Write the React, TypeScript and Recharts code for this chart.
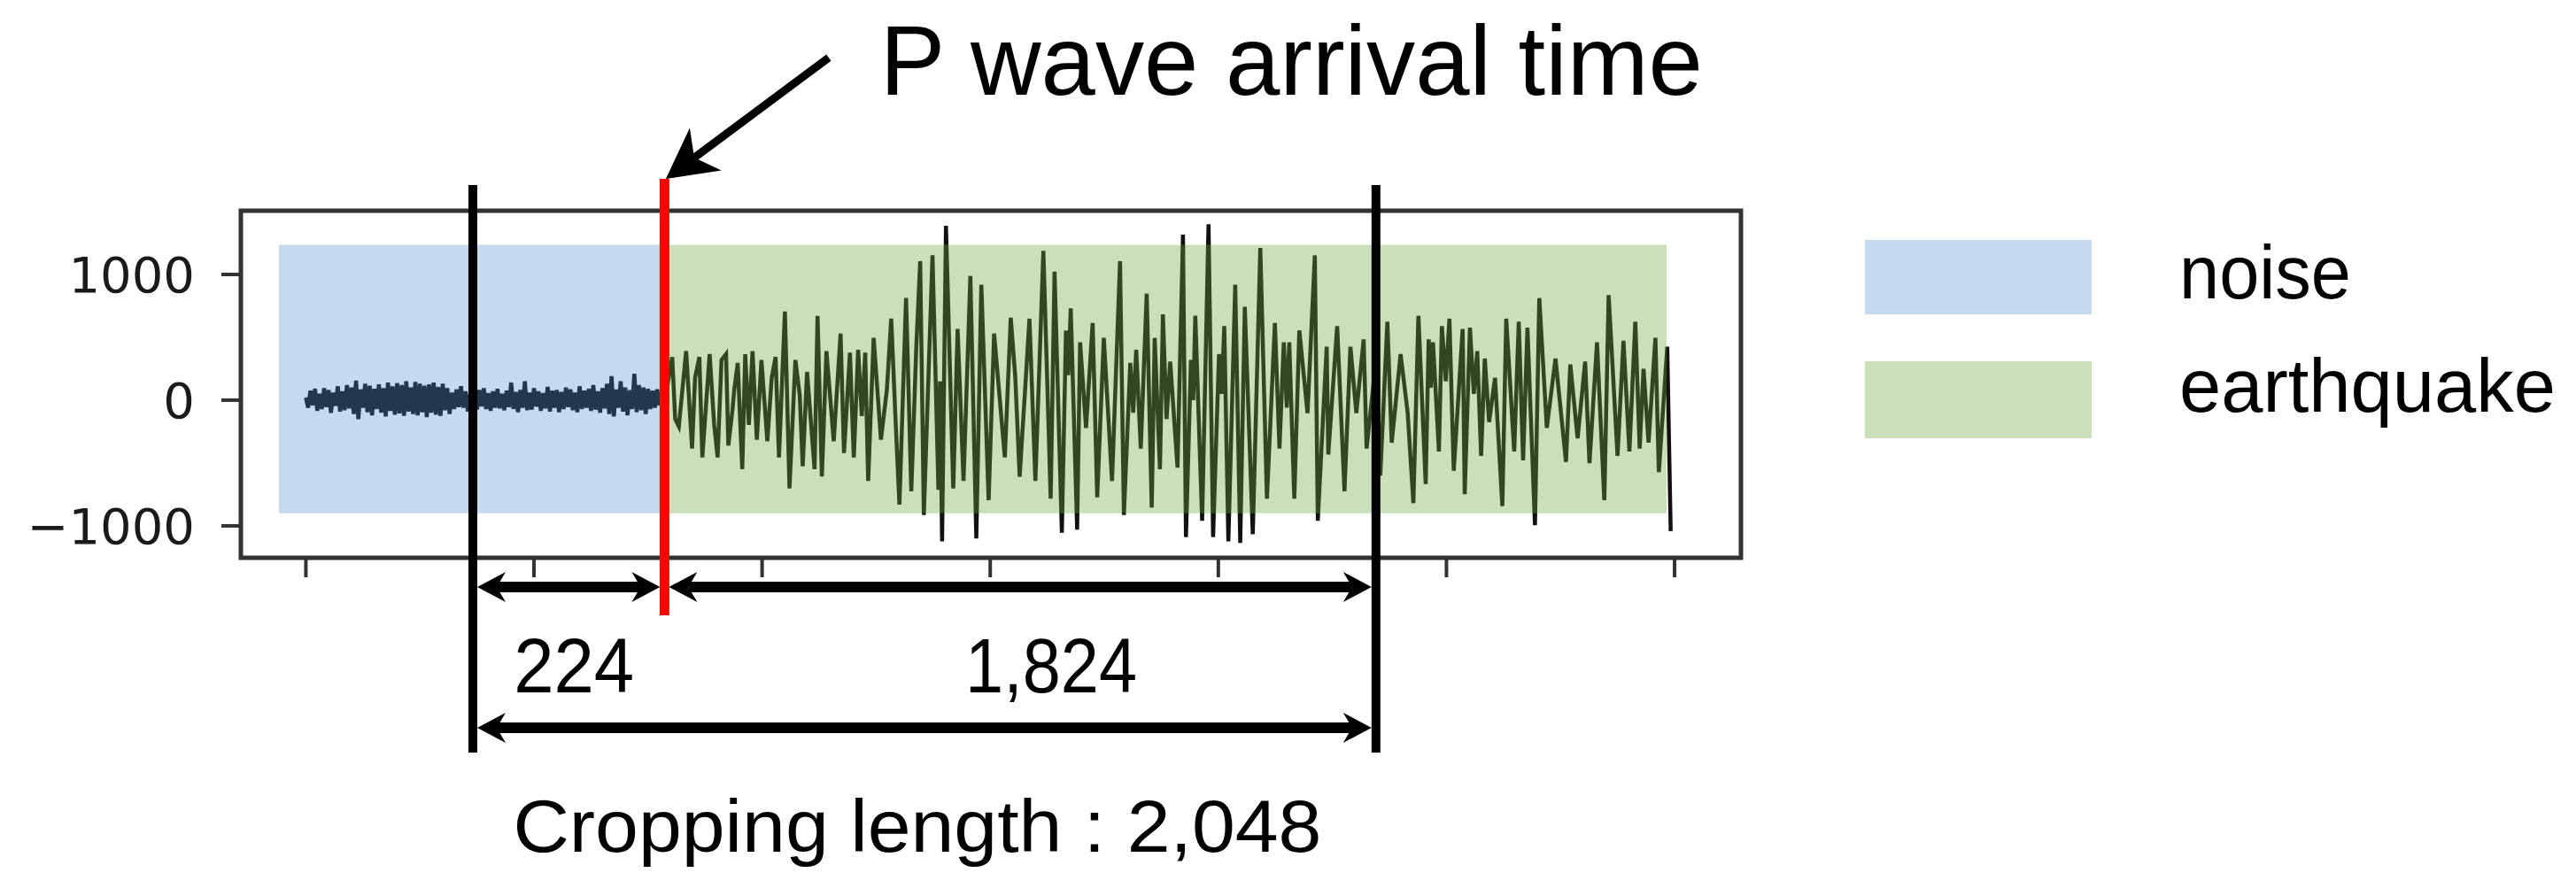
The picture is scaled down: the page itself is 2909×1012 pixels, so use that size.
import React from 'react';
import { ComposedChart, Line, XAxis, YAxis, ReferenceArea, ReferenceLine } from 'recharts';

const CHART_W = 2909;
const CHART_H = 1012;

const xTicks = [0, 1000, 2000, 3000, 4000, 5000, 6000];
const yTicks = [-1000, 0, 1000];
const xDomain = [-285, 6291];
const yDomain = [-1254, 1507];

// background noise (before P arrival), one value every 10 samples
const noiseStep = 10;
const noiseValues = [
  20, -60, 75, -40, 90, -85, 50, -70, 95, -55, 80, -100, 60, -45, 110, -90,
  70, -80, 120, -65, 100, -110, 155, -150, 85, -60, 130, -95, 115, -120, 90, -70,
  125, -100, 95, -130, 140, -85, 110, -115, 135, -105, 120, -125, 150, -90, 100, -110,
  145, -120, 130, -95, 115, -135, 125, -100, 140, -115, 105, -125, 130, -80, 95, -110,
  60, -70, 85, -55, 110, -60, 70, -90, 45, -65, 120, -75, 80, -50, 95, -70,
  55, -85, 70, -60, 90, -65, 50, -80, 75, -55, 140, -70, 65, -95, 80, -60,
  150, -80, 60, -75, 95, -50, 70, -85, 55, -65, 105, -90, 75, -60, 80, -95,
  65, -70, 100, -55, 85, -80, 60, -95, 110, -70, 75, -60, 90, -85, 120, -75,
  70, -100, 95, -65, 130, -110, 190, -130, 85, -60, 150, -90, 100, -120, 80, -70,
  210, -95, 120, -80, 100, -110, 90, -70, 75, -60, 85, -40, 30, -20,
];

// earthquake record (after P arrival): sample index and amplitude of each turning point
const quakeSamples = [
  1572, 1606, 1619, 1635, 1667, 1693, 1706, 1725, 1738, 1770, 1790, 1805, 1822, 1842, 1852, 1870,
  1878, 1893, 1913, 1926, 1942, 1958, 1977, 1997, 2023, 2042, 2059, 2074, 2100, 2120, 2146, 2165,
  2178, 2197, 2230, 2243, 2262, 2282, 2314, 2344, 2359, 2385, 2402, 2421, 2437, 2452, 2465, 2489,
  2521, 2547, 2566, 2586, 2602, 2631, 2654, 2676, 2693, 2709, 2747, 2773, 2780, 2789, 2806, 2838,
  2857, 2883, 2913, 2939, 2961, 2993, 3017, 3064, 3090, 3110, 3129, 3155, 3172, 3198, 3233, 3265,
  3282, 3314, 3332, 3342, 3353, 3381, 3394, 3420, 3449, 3469, 3498, 3534, 3569, 3586, 3614, 3627,
  3640, 3660, 3686, 3708, 3721, 3744, 3757, 3773, 3789, 3821, 3845, 3858, 3880, 3890, 3899, 3929,
  3957, 3977, 4003, 4015, 4026, 4044, 4074, 4096, 4116, 4151, 4184, 4213, 4248, 4268, 4287, 4300,
  4311, 4333, 4355, 4391, 4423, 4436, 4475, 4482, 4521, 4553, 4579, 4605, 4637, 4650, 4690, 4710,
  4741, 4760, 4799, 4830, 4855, 4877, 4909, 4922, 4931, 4941, 4967, 4980, 4997, 5013, 5032, 5071,
  5080, 5103, 5120, 5135, 5152, 5168, 5187, 5213, 5245, 5262, 5297, 5317, 5336, 5355, 5388, 5407,
  5440, 5478, 5524, 5543, 5575, 5608, 5627, 5660, 5692, 5711, 5750, 5776, 5802, 5828, 5847, 5864,
  5886, 5916, 5931, 5968, 5983,
];
const quakeValues = [
  -20, 343, -150, -209, 390, -385, 178, 343, -455, 366, -197, -455, 319, 366, -361, -80,
  84, 296, -549, 366, -197, 390, -314, 319, -326, 178, 343, -455, 706, -702, 319, 38,
  -526, 225, -549, 671, -608, 390, -326, 530, -420, 378, -455, 401, -127, 378, -643, 495,
  -314, 84, 648, -197, -831, 812, -725, 425, 1105, -913, 1152, -713, 150, -1124, 1387, -702,
  566, -643, 988, -1101, 918, -796, 530, -455, 655, 178, -608, 143, 648, -643, 1188, -784,
  1023, -1054, 554, 200, 730, -1030, 460, -221, 613, -772, 495, -643, 1105, -913, 296, -100,
  401, -385, 847, -854, 495, -549, 683, -150, 307, -537, 1317, -1089, 319, 0, 671, -960,
  1399, -1089, 366, 50, 589, -1124, 918, -1136, 742, -1066, 1211, -784, 613, -385, 460, -60,
  460, -784, 554, -103, 1152, -960, 425, -432, 589, -725, 425, -103, 483, -385, 300, -600,
  624, -338, 366, -100, -819, 671, -667, 483, 100, 460, -408, 589, 150, 648, -561, 566,
  -749, 577, 50, 390, -444, 331, -174, 178, -843, 648, -408, 624, -479, 577, -995, 812,
  -221, 331, -491, 284, -303, 307, -502, 460, -796, 836, -444, 472, -408, 624, -385, 249,
  -338, 495, -573, 425, -1042,
];

const regionNames = ['noise', 'earthquake'];
const regionStart = [-118, 1572];
const regionEnd = [1572, 5965];
const regionLow = -900;
const regionHigh = 1235;
const regionColors = ['#4a88cd', '#6ca63f'];
const regionOpacity = [0.32, 0.36];

const pArrival = 1572;
const cropStart = 732;
const cropEnd = 4691;
const noiseLenLabel = '224';
const quakeLenLabel = '1,824';
const cropLabel = 'Cropping length : 2,048';
const titleLabel = 'P wave arrival time';

// annotation extents, in amplitude units of the y axis
const guideTop = 1711;
const guideBottom = -2803;
const redTop = 1761;
const redBottom = -1711;
const dimRow1 = -1486;
const dimRow2 = -2606;
const titleTail = { x: 2292, y: 2725 };
const titleTip = { x: 1578, y: 1761 };

const data = [
  ...noiseValues.map((v, i) => ({ t: i * noiseStep, v })),
  ...quakeSamples.map((t, i) => ({ t, v: quakeValues[i] })),
];

const FONT = "'Liberation Sans', Arial, sans-serif";

function headPath(tx: number, ty: number, ux: number, uy: number, len: number, half: number, notch: number) {
  const bx = tx - ux * len;
  const by = ty - uy * len;
  const nx = -uy;
  const ny = ux;
  return `M${tx},${ty} L${bx + nx * half},${by + ny * half} L${tx - ux * notch},${ty - uy * notch} L${bx - nx * half},${by - ny * half} Z`;
}

function makeDimArrow(label: string, dx: number, dy: number, fontSize: number, textLen: number) {
  return (props: any) => {
    const { x1, y1, x2 } = props;
    const inset = 5;
    const a = Math.min(x1, x2) + inset;
    const b = Math.max(x1, x2) - inset;
    const y = y1;
    const len = 32;
    const half = 17;
    const notch = 22;
    return (
      <g>
        <line x1={a + notch} y1={y} x2={b - notch} y2={y} stroke="#000" strokeWidth={12} />
        <path d={headPath(a, y, -1, 0, len, half, notch)} fill="#000" />
        <path d={headPath(b, y, 1, 0, len, half, notch)} fill="#000" />
        <text
          x={(a + b) / 2 + dx}
          y={y + dy}
          textAnchor="middle"
          fontSize={fontSize}
          fontFamily={FONT}
          fill="#000"
          textLength={textLen}
          lengthAdjust="spacingAndGlyphs"
        >
          {label}
        </text>
      </g>
    );
  };
}

const TitleArrow = (props: any) => {
  const { x1, y1, x2, y2 } = props;
  const vx = x2 - x1;
  const vy = y2 - y1;
  const L = Math.sqrt(vx * vx + vy * vy);
  const ux = vx / L;
  const uy = vy / L;
  const notch = 40;
  return (
    <g>
      <line x1={x1} y1={y1} x2={x2 - ux * notch} y2={y2 - uy * notch} stroke="#000" strokeWidth={9} />
      <path d={headPath(x2, y2, ux, uy, 56, 30, notch)} fill="#000" />
      <text
        x={x1 + 58}
        y={y1 + 42}
        textAnchor="start"
        fontSize={112}
        fontFamily={FONT}
        fill="#000"
        textLength={929}
        lengthAdjust="spacingAndGlyphs"
      >
        {titleLabel}
      </text>
    </g>
  );
};

const fmtY = (v: number) => (v < 0 ? '\u2212' + Math.abs(v) : String(v));

const legendTop = [271, 408];
const legendHeight = [84, 87];
const legendBaseline = [337, 465];
const legendTextLen = [194, 425];

export default function App() {
  return (
    <div style={{ position: 'absolute', left: 0, top: 0, width: CHART_W, height: CHART_H, background: '#fff' }}>
      <ComposedChart
        width={CHART_W}
        height={CHART_H}
        data={data}
        margin={{ top: 238, right: 943, bottom: 322, left: 72 }}
      >
        <XAxis
          dataKey="t"
          type="number"
          domain={xDomain}
          ticks={xTicks}
          allowDataOverflow
          tickFormatter={() => ''}
          tickSize={22}
          tickLine={{ stroke: '#333', strokeWidth: 4 }}
          axisLine={false}
          height={60}
        />
        <YAxis
          type="number"
          domain={yDomain}
          ticks={yTicks}
          allowDataOverflow
          tickFormatter={fmtY}
          tickSize={22}
          tickMargin={30}
          tickLine={{ stroke: '#333', strokeWidth: 4 }}
          axisLine={false}
          width={200}
          tick={{ fontSize: 56, fontFamily: "'DejaVu Sans', sans-serif", fill: '#1a1a1a' }}
        />
        <Line
          dataKey="v"
          type="linear"
          stroke="#111111"
          strokeWidth={4.5}
          dot={false}
          activeDot={false}
          isAnimationActive={false}
        />
        {regionNames.map((name, i) => (
          <ReferenceArea
            key={name}
            x1={regionStart[i]}
            x2={regionEnd[i]}
            y1={regionLow}
            y2={regionHigh}
            fill={regionColors[i]}
            fillOpacity={regionOpacity[i]}
            stroke="none"
            ifOverflow="visible"
            zIndex={450}
          />
        ))}
        <ReferenceArea
          x1={xDomain[0]}
          x2={xDomain[1]}
          y1={yDomain[0]}
          y2={yDomain[1]}
          fill="none"
          stroke="#333"
          strokeWidth={5}
          ifOverflow="visible"
          zIndex={460}
        />
        <ReferenceLine
          segment={[{ x: cropStart, y: guideTop }, { x: cropStart, y: guideBottom }]}
          stroke="#000"
          strokeWidth={10}
          ifOverflow="visible"
          zIndex={600}
        />
        <ReferenceLine
          segment={[{ x: cropEnd, y: guideTop }, { x: cropEnd, y: guideBottom }]}
          stroke="#000"
          strokeWidth={10}
          ifOverflow="visible"
          zIndex={600}
        />
        <ReferenceLine
          segment={[{ x: pArrival, y: redTop }, { x: pArrival, y: redBottom }]}
          stroke="#ff0000"
          strokeWidth={11}
          ifOverflow="visible"
          zIndex={610}
        />
        <ReferenceLine
          segment={[{ x: cropStart, y: dimRow1 }, { x: pArrival, y: dimRow1 }]}
          shape={makeDimArrow(noiseLenLabel, 6, 119, 87, 136)}
          ifOverflow="visible"
          zIndex={620}
        />
        <ReferenceLine
          segment={[{ x: pArrival, y: dimRow1 }, { x: cropEnd, y: dimRow1 }]}
          shape={makeDimArrow(quakeLenLabel, 35, 119, 87, 194)}
          ifOverflow="visible"
          zIndex={620}
        />
        <ReferenceLine
          segment={[{ x: cropStart, y: dimRow2 }, { x: cropEnd, y: dimRow2 }]}
          shape={makeDimArrow(cropLabel, -8, 140, 84, 913)}
          ifOverflow="visible"
          zIndex={620}
        />
        <ReferenceLine
          segment={[titleTail, titleTip]}
          shape={TitleArrow}
          ifOverflow="visible"
          zIndex={630}
        />
      </ComposedChart>
      <svg
        width={CHART_W}
        height={CHART_H}
        style={{ position: 'absolute', left: 0, top: 0, pointerEvents: 'none' }}
      >
        {regionNames.map((name, i) => (
          <g key={name}>
            <rect
              x={2106}
              y={legendTop[i]}
              width={256}
              height={legendHeight[i]}
              fill={regionColors[i]}
              fillOpacity={regionOpacity[i]}
            />
            <text
              x={2461}
              y={legendBaseline[i]}
              fontSize={86}
              fontFamily={FONT}
              fill="#000"
              textLength={legendTextLen[i]}
              lengthAdjust="spacingAndGlyphs"
            >
              {name}
            </text>
          </g>
        ))}
      </svg>
    </div>
  );
}
